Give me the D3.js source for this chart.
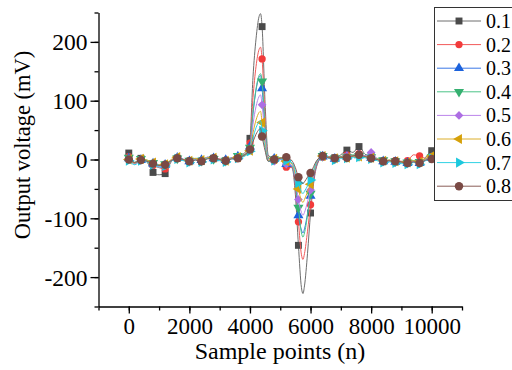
<!DOCTYPE html>
<html>
<head>
<meta charset="utf-8">
<script src="https://cdn.jsdelivr.net/npm/d3@7"></script>
<style>
  body { margin: 0; background: #fff; }
  svg { display: block; font-family: "Liberation Serif", "Times New Roman", serif; }
</style>
</head>
<body>
<svg id="chart" width="512" height="370"></svg>
<script>
// sample positions (n)
const samples = [0,200,400,600,800,1000,1200,1400,1600,1800,2000,2200,2400,2600,2800,3000,3200,3400,3600,3800,
  4000,4100,4200,4300,4350,4400,4500,4600,4800,5000,
  5200,5400,5500,5600,5700,5750,5800,5900,6000,6200,6400,
  6600,6800,7000,7200,7400,7600,7800,8000,8200,8400,8600,8800,9000,9200,9400,9600,9800,10000];

const labels = ['0.1','0.2','0.3','0.4','0.5','0.6','0.7','0.8'];

// output voltage (mV) per series
const v01 = [11,-5,2,-4,-22,-26,-24,-4,2,-1,-3,1,-3,3,2,0,-2,3,5,10,
  36,140,205,243,248,226,95,8,0,3,
  -5,-15,-60,-146,-218,-228,-215,-160,-91,-12,5,
  4,3,8,16,12,22,9,5,0,-3,-1,-4,-5,-6,-2,-5,4,15];
const v02 = [5,-7,0,-3,-10,-14,-16,-3,2,0,-2,0,-2,2,1,1,-1,2,4,8,
  28,105,158,187,191,171,70,4,-2,1,
  -13,-14,-48,-106,-162,-170,-160,-122,-77,-10,4,
  5,2,5,8,7,10,6,4,1,-2,-2,-2,-3,-2,8,6,2,5];
const v03 = [2,-6,-1,-2,-7,-10,-9,-1,3,-1,-3,1,-1,4,2,-1,-1,3,5,7,
  22,78,118,140,143,121,50,2,1,2,
  -8,-12,-42,-95,-120,-125,-118,-92,-62,-8,5,
  3,1,4,5,6,7,5,3,0,-3,-3,-4,-5,-6,-4,-6,-1,3];
const v04 = [3,-5,1,-1,-6,-11,-8,-2,2,0,-2,0,-2,3,1,0,-2,2,6,8,
  20,80,120,143,146,133,55,3,0,3,
  -6,-11,-38,-82,-125,-132,-125,-95,-58,-6,6,
  4,2,5,4,8,6,7,4,2,-1,-2,-3,-4,-5,-2,-4,1,4];
const v05 = [1,-8,-1,-3,-8,-12,-10,-2,3,1,-4,0,-3,4,2,1,-3,3,3,6,
  16,60,90,107,110,93,38,0,-3,0,
  -8,-10,-32,-68,-90,-95,-90,-72,-52,-5,5,
  2,0,3,6,5,8,6,12,1,-4,-3,-5,-6,-7,-3,-7,0,2];
const v06 = [0,-6,1,-1,-5,-9,-8,0,4,0,-2,2,-1,3,3,0,-2,2,4,6,
  15,45,67,80,82,63,26,-2,1,3,
  -3,-8,-25,-50,-70,-73,-68,-55,-42,-4,6,
  3,2,4,3,6,5,5,3,1,-2,-1,-3,-4,-5,-2,-4,2,6];
const v07 = [-2,-9,-2,-4,-9,-13,-11,-3,1,-2,-5,-1,-4,2,0,-2,-4,1,2,5,
  14,36,54,64,66,49,20,-3,-2,1,
  -2,-6,-20,-40,-55,-58,-54,-45,-35,-3,6,
  2,-1,2,2,4,4,3,1,-2,-5,-4,-6,-7,-8,-5,-8,-2,2];
const v08 = [0,-5,-1,-3,-7,-10,-9,-2,2,0,-3,-1,-3,1,2,0,-2,1,2,7,
  17,30,43,51,53,39,15,-3,0,2,
  4,-3,-14,-30,-39,-41,-38,-30,-23,-2,6,
  3,2,4,3,6,8,5,2,0,-3,-2,-3,-4,-6,-4,-6,-1,1];

const seriesValues = [v01,v02,v03,v04,v05,v06,v07,v08];

const xTicks = [0,2000,4000,6000,8000,10000];
const yTicks = [-200,-100,0,100,200];

const colors = ['#4a4a4a','#f23b3b','#1c62dc','#35b070','#ad6ee3','#d6a10a','#1cc8dd','#7a4a45'];
const lineColors = ['#6e6e6e','#f25a5a','#3a78e6','#4cc488','#bb84ea','#dcae2a','#30d2e4','#8a5d58'];
// symbol, rotation, area
const marks = [
  [d3.symbolSquare, 0, 48],
  [d3.symbolCircle, 0, 42],
  [d3.symbolTriangle, 0, 44],
  [d3.symbolTriangle, 180, 44],
  [d3.symbolSquare, 45, 38],
  [d3.symbolTriangle, -90, 44],
  [d3.symbolTriangle, 90, 44],
  [d3.symbolCircle, 0, 56]
];

const svg = d3.select('#chart');

const x = d3.scaleLinear().domain([-1000, 11000]).range([98.5, 462]);
const y = d3.scaleLinear().domain([-250, 250]).range([306.5, 12.5]);

// axes
const xMinor = d3.range(-1000, 11001, 1000);
const yMinor = d3.range(-250, 251, 50);

svg.append('g')
  .attr('transform', 'translate(0,306.5)')
  .call(d3.axisBottom(x).tickValues(xMinor).tickSize(4).tickFormat(''))
  .call(g => g.select('.domain').remove());
const xAxis = svg.append('g')
  .attr('transform', 'translate(0,306.5)')
  .call(d3.axisBottom(x).tickValues(xTicks).tickSize(7).tickSizeOuter(0).tickPadding(4).tickFormat(d3.format('d')));

svg.append('g')
  .attr('transform', 'translate(98.5,0)')
  .call(d3.axisLeft(y).tickValues(yMinor).tickSize(4).tickFormat(''))
  .call(g => g.select('.domain').remove());
const yAxis = svg.append('g')
  .attr('transform', 'translate(98.5,0)')
  .call(d3.axisLeft(y).tickValues(yTicks).tickSize(8).tickSizeOuter(0).tickPadding(3).tickFormat(d => d < 0 ? '-' + Math.abs(d) : d));

svg.selectAll('.tick line, .domain').attr('stroke', '#000').attr('stroke-width', 1.3);
xAxis.selectAll('text').attr('font-size', 23).attr('fill', '#000').attr('font-family', 'Liberation Serif');
yAxis.selectAll('text').attr('font-size', 23.5).attr('fill', '#000').attr('font-family', 'Liberation Serif').attr('dy', '0.34em');

// series
const line = d3.line()
  .x((d, i) => x(samples[i]))
  .y(d => y(d))
  .curve(d3.curveMonotoneX);

seriesValues.forEach((vals, si) => {
  const g = svg.append('g').attr('class', 'series');
  g.append('path')
    .datum(vals)
    .attr('fill', 'none')
    .attr('stroke', lineColors[si])
    .attr('stroke-width', 1)
    .attr('d', line);
  const pts = vals.map((v, i) => ({n: samples[i], v})).filter(d => d.n % 400 === 0);
  const [type, rot, size] = marks[si];
  g.selectAll('path.mk')
    .data(pts)
    .join('path')
      .classed('mk', true)
      .attr('d', d3.symbol().type(type).size(size))
      .attr('fill', colors[si])
      .attr('transform', d => `translate(${x(d.n)},${y(d.v)}) rotate(${rot})`);
});

// axis titles
svg.append('text')
  .attr('x', 280).attr('y', 359)
  .attr('text-anchor', 'middle')
  .attr('font-size', 24)
  .text('Sample points (n)');
svg.append('text')
  .attr('transform', 'translate(30,145) rotate(-90)')
  .attr('text-anchor', 'middle')
  .attr('font-size', 22.5)
  .text('Output voltage (mV)');

// legend
const legend = svg.append('g');
legend.append('rect')
  .attr('x', 434.5).attr('y', 7.5)
  .attr('width', 90).attr('height', 193)
  .attr('fill', '#fff').attr('stroke', '#333').attr('stroke-width', 1);
const items = legend.selectAll('g.item')
  .data(labels)
  .join('g')
    .classed('item', true)
    .attr('transform', (d, i) => `translate(0,${21 + i * 23.6})`);
items.append('line')
  .attr('x1', 437).attr('x2', 481)
  .attr('stroke', (d, i) => lineColors[i]).attr('stroke-width', 1);
items.append('path')
  .attr('d', (d, i) => d3.symbol().type(marks[i][0]).size(marks[i][2])())
  .attr('transform', (d, i) => `translate(459,0) rotate(${marks[i][1]})`)
  .attr('fill', (d, i) => colors[i]);
items.append('text')
  .attr('x', 486).attr('dy', '0.35em')
  .attr('font-size', 20)
  .text(d => d);
</script>
</body>
</html>
